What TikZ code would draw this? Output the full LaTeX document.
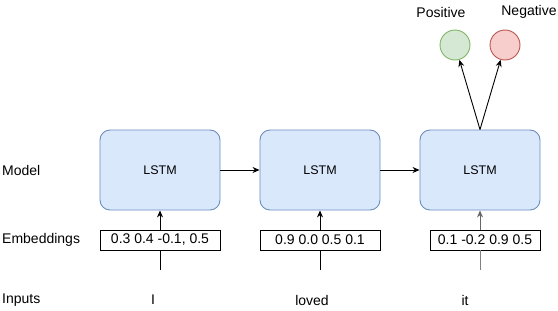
\documentclass[tikz,border=0pt]{standalone}
\usepackage{fontspec}
\setmainfont{Liberation Sans}
\usepackage{tikz}
\usetikzlibrary{positioning}
\usetikzlibrary{arrows.meta}
\definecolor{lstmfill}{RGB}{218,232,252}
\definecolor{lstmdraw}{RGB}{108,142,191}
\definecolor{posfill}{RGB}{213,232,212}
\definecolor{posdraw}{RGB}{130,179,102}
\definecolor{negfill}{RGB}{248,206,204}
\definecolor{negdraw}{RGB}{184,84,80}
\tikzset{
  rnn/.style={
    cell/.style={rectangle, rounded corners=10pt, draw=lstmdraw, fill=lstmfill,
        line width=0.9pt, minimum width=120pt, minimum height=80pt,
        font={\fontsize{12.5}{14}\selectfont}},
    vec/.style={rectangle, draw, line width=0.9pt, minimum height=20pt,
        inner sep=0pt, font={\fontsize{14}{16}\selectfont}},
    row label/.style={anchor=west, inner sep=2pt, font={\fontsize{14}{16}\selectfont}},
    word/.style={font={\fontsize{14}{16}\selectfont}},
    class/.style n args={2}{circle, draw=##1, fill=##2, line width=0.9pt, minimum size=30pt},
    link/.style={-{Stealth[length=7pt,width=6pt]}, line width=0.9pt},
    feed/.style={line width=0.9pt},
  }
}

\begin{document}
\begin{tikzpicture}[rnn, x=1pt, y=-1pt]
    \useasboundingbox (0,0) rectangle (558,311);

    % row captions
    \node[row label] (model) at (0,170) {Model};
    \node[row label] (embed) at (0,240) {Embeddings};
    \node[row label] (input) at (0,300) {Inputs};

    % one cell per time step
    \foreach \n/\x in {1/160, 2/320, 3/480}
        \node[cell] (lstm\n) at (\x,170) {LSTM};

    \node[vec, minimum width=120pt] (emb1) at (160,240) {0.3 0.4 -0.1, 0.5};
    \node[vec, minimum width=120pt] (emb2) at (320,240) {0.9 0.0 0.5 0.1};
    \node[vec, minimum width=110pt] (emb3) at (485,240) {0.1 -0.2 0.9 0.5};

    \node[word] (w1) at (153,300) {I};
    \node[word] (w2) at (312,300) {loved};
    \node[word] (w3) at (465,300) {it};

    \foreach \n/\x in {1/160, 2/320, 3/480}
        \coordinate (in\n) at (\x,270);

    % inputs -> embeddings -> cells
    \draw[feed] (in1) -- (in1 |- emb1.south);
    \draw[feed] (in2) -- (in2 |- emb2.south);
    \draw[feed, gray] (in3) -- (in3 |- emb3.south);
    \draw[link] (emb1.north -| lstm1) -- (lstm1.south);
    \draw[link] (emb2.north -| lstm2) -- (lstm2.south);
    \draw[link, black!60] (emb3.north -| lstm3) -- (lstm3.south);

    % recurrence
    \draw[link] (lstm1) -- (lstm2);
    \draw[link] (lstm2) -- (lstm3);

    % output classes
    \node[class={posdraw}{posfill}] (pos) at (455,45) {};
    \node[class={negdraw}{negfill}] (neg) at (505,45) {};
    \node[word] (poslab) at (441,12) {Positive};
    \node[word] (neglab) at (529,12) {Negative};
    \draw[link] (lstm3.north) -- (pos);
    \draw[link] (lstm3.north) -- (neg);
\end{tikzpicture}
\end{document}
